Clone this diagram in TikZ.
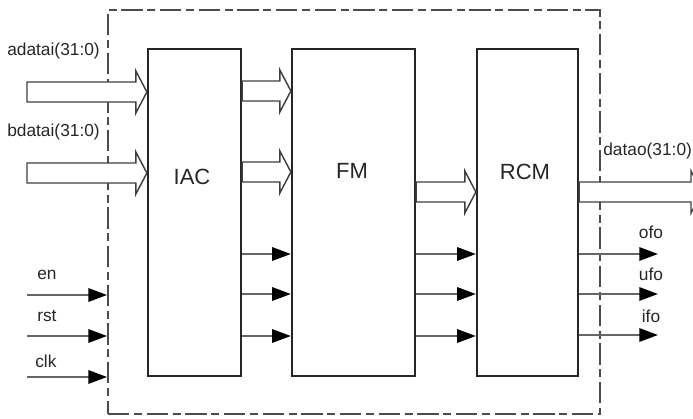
\documentclass[tikz,border=0pt]{standalone}
\usepackage{fontspec}
\setmainfont{Liberation Sans}
\usetikzlibrary{arrows.meta}

% hollow bus arrow between two points at the same height
\newcommand\busarrow[2]{%
  \draw[bus] ([yshift=7.5pt]#1) -- ([xshift=-8.25pt,yshift=7.5pt]#2) -- ([xshift=-8.25pt,yshift=15.75pt]#2)
    -- (#2) -- ([xshift=-8.25pt,yshift=-15.75pt]#2) -- ([xshift=-8.25pt,yshift=-7.5pt]#2) -- ([yshift=-7.5pt]#1) -- cycle;}

\begin{document}
\begin{tikzpicture}[x=0.75pt, y=-0.75pt, font=\fontsize{13}{15}\selectfont,
  block/.style={draw=black!85, line width=1.7pt, minimum width=#1, minimum height=245.25pt, inner sep=0pt},
  blocktitle/.style={font=\fontsize{16.5}{18}\selectfont, text=black!85},
  frame/.style={draw=black!70, line width=1.4pt, dash pattern=on 16pt off 3.5pt on 6pt off 3.5pt, minimum width=369pt, minimum height=303pt},
  bus/.style={draw=black!75, line width=1.1pt, fill=white, line join=miter},
  sig/.style={draw=black!60, line width=1.5pt, -{Triangle[length=14pt,width=10pt,color=black]}},
  lbl/.style={anchor=base west, inner sep=0pt, text=black!85}]
  \clip (0,0) rectangle (693,418);
  \node[frame] (chip) at (354,212) {};
  \node[block=69.75pt] (iac) at (194.5,212.5) {};
  \node[block=92.25pt] (fm) at (353.5,212.5) {};
  \node[block=75.75pt] (rcm) at (527.5,212.5) {};
  \node[blocktitle] (iacname) at (192,176.5) {IAC};
  \node[blocktitle] (fmname) at (352,171) {FM};
  \node[blocktitle] (rcmname) at (525,171.5) {RCM};
  % buses
  \coordinate (adatai) at (27,92);
  \coordinate (bdatai) at (27,173);
  \coordinate (datao) at (702,192);
  \busarrow{adatai}{adatai -| iac.west}
  \busarrow{bdatai}{bdatai -| iac.west}
  \busarrow{iac.east |- 0,91}{fm.west |- 0,91}
  \busarrow{iac.east |- 0,172}{fm.west |- 0,172}
  \busarrow{fm.east |- 0,192}{rcm.west |- 0,192}
  \busarrow{rcm.east |- datao}{datao}
  \node[lbl] at (7,55) {adatai(31:0)};
  \node[lbl] at (7,136) {bdatai(31:0)};
  \node[lbl] at (603,155) {datao(31:0)};
  % control inputs
  \coordinate (en) at (27,295);
  \coordinate (rst) at (27,336);
  \coordinate (clk) at (27,377);
  \draw[sig] (en) -- (en -| chip.west);
  \draw[sig] (rst) -- (rst -| chip.west);
  \draw[sig] (clk) -- (clk -| chip.west);
  \node[lbl] at (37,279) {en};
  \node[lbl] at (37,321) {rst};
  \node[lbl] at (35,367) {clk};
  % internal signals
  \draw[sig] (iac.east |- 0,254) -- (fm.west |- 0,254);
  \draw[sig] (iac.east |- 0,294) -- (fm.west |- 0,294);
  \draw[sig] (iac.east |- 0,336) -- (fm.west |- 0,336);
  \draw[sig] (fm.east |- 0,254) -- (rcm.west |- 0,254);
  \draw[sig] (fm.east |- 0,294) -- (rcm.west |- 0,294);
  \draw[sig] (fm.east |- 0,336) -- (rcm.west |- 0,336);
  % flags
  \coordinate (ofo) at (658,254);
  \coordinate (ufo) at (658,294);
  \coordinate (ifo) at (658,335);
  \draw[sig] (rcm.east |- ofo) -- (ofo);
  \draw[sig] (rcm.east |- ufo) -- (ufo);
  \draw[sig] (rcm.east |- ifo) -- (ifo);
  \node[lbl, anchor=base] at (651,238) {ofo};
  \node[lbl, anchor=base] at (651,280) {ufo};
  \node[lbl, anchor=base] at (651,322) {ifo};
\end{tikzpicture}
\end{document}
